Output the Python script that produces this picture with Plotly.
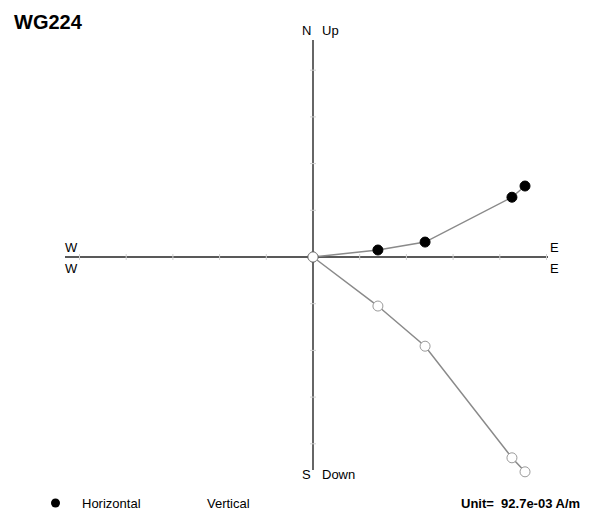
import plotly.graph_objects as go

# Zijderveld diagram data (units of the tick spacing; 1 unit = 92.7e-03 A/m)
east = [0.0, 1.39, 2.40, 4.26, 4.54]
north = [0.0, 0.15, 0.32, 1.28, 1.52]
down = [0.0, -1.05, -1.91, -4.30, -4.60]
ticks_x = [-5, -4, -3, -2, -1, 1, 2, 3, 4, 5]
ticks_y = [-4, -3, -2, -1, 1, 2, 3, 4]

W, H = 593, 516
OFF = 8  # page body margin
OX, OY, S = 313 - OFF, 257 - OFF, 46.7  # figure-pixel origin and pixels per unit

def px2x(px):
    # px: screen pixel
    return (px - OFF - OX) / S

def py2y(py):
    return (OY - (py - OFF)) / S

fig = go.Figure()

# Horizontal projection
fig.add_trace(go.Scatter(
    x=east, y=north, mode="lines+markers", name="Horizontal", showlegend=False,
    line=dict(color="#8a8a8a", width=1.5),
    marker=dict(symbol="circle", size=10, color="black", line=dict(color="black", width=1)),
))
# Vertical projection
fig.add_trace(go.Scatter(
    x=east, y=down, mode="lines+markers", name="Vertical", showlegend=False,
    line=dict(color="#8a8a8a", width=1.5),
    marker=dict(symbol="circle", size=10, color="white", line=dict(color="#9a9a9a", width=1)),
))
# Legend entries
fig.add_trace(go.Scatter(x=[None], y=[None], mode="markers", name="Horizontal",
                         marker=dict(symbol="circle", size=9, color="black")))
fig.add_trace(go.Scatter(x=[None], y=[None], mode="markers", name="Vertical",
                         marker=dict(symbol="circle", size=9, color="white",
                                     line=dict(color="white", width=0))))

shapes = []
# Axes
shapes.append(dict(type="line", xref="x", yref="y", x0=px2x(65), x1=px2x(548), y0=0, y1=0,
                   line=dict(color="#222222", width=1.5), layer="below"))
shapes.append(dict(type="line", xref="x", yref="y", x0=0, x1=0, y0=py2y(40), y1=py2y(470),
                   line=dict(color="#333333", width=1.5), layer="below"))
tl = 3 / S
for t in ticks_x:
    shapes.append(dict(type="line", xref="x", yref="y", x0=t, x1=t, y0=-tl, y1=tl,
                       line=dict(color="#d0d0d0", width=1), layer="below"))
for t in ticks_y:
    shapes.append(dict(type="line", xref="x", yref="y", x0=-tl, x1=tl, y0=t, y1=t,
                       line=dict(color="#d0d0d0", width=1), layer="below"))

font = "Liberation Sans, Arial, sans-serif"

def ann(text, px, py, size=13, bold=False, xanchor="center"):
    return dict(text=f"<b>{text}</b>" if bold else text, xref="paper", yref="paper",
                x=(px - OFF) / W, y=1 - (py - OFF) / H, showarrow=False, xanchor=xanchor,
                yanchor="middle", font=dict(family=font, size=size, color="black"))

annotations = [
    ann("WG224", 12, 22, size=20, bold=True, xanchor="left"),
    ann("N", 306, 31, xanchor="center"),
    ann("Up", 320, 31, xanchor="left"),
    ann("S", 306, 474, xanchor="center"),
    ann("Down", 320, 474, xanchor="left"),
    ann("W", 71, 248),
    ann("W", 71, 268),
    ann("E", 554, 248),
    ann("E", 554, 268),
    ann("Unit=  92.7e-03 A/m", 582, 503, size=13, bold=True, xanchor="right"),
]

fig.update_layout(
    width=W, height=H, margin=dict(l=0, r=0, t=0, b=0),
    paper_bgcolor="white", plot_bgcolor="white",
    xaxis=dict(range=[px2x(OFF), px2x(OFF + W)], visible=False, fixedrange=True),
    yaxis=dict(range=[py2y(OFF + H), py2y(OFF)], visible=False, fixedrange=True),
    shapes=shapes, annotations=annotations,
    showlegend=True,
    legend=dict(orientation="h", x=(29 - OFF) / W, y=1 - (503 - OFF) / H, xanchor="left",
                yanchor="middle", entrywidth=67, entrywidthmode="pixels", itemwidth=43,
                bgcolor="rgba(0,0,0,0)",
                font=dict(family=font, size=13, color="black")),
)

fig.write_html("out.html")
